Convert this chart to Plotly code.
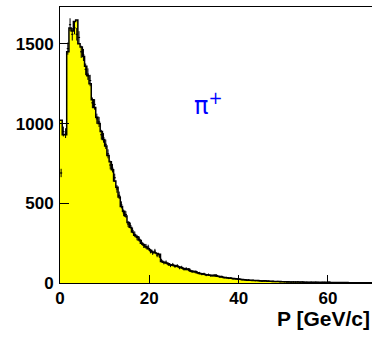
import plotly.graph_objects as go
import numpy as np

# bin lower edges (GeV/c), 0.5 GeV/c bins from 0 to 70
bin_width = 0.5
bin_lo = [i * 0.5 for i in range(140)]

# Monte-Carlo histogram counts (yellow)
mc_counts = [
    1020, 930, 930, 1450, 1600, 1580, 1640, 1650, 1500, 1480,   # 0 - 5
    1420, 1360, 1300, 1250, 1150, 1100, 1040, 1000, 950, 900,   # 5 - 10
    860, 800, 760, 710, 640, 600, 540, 480, 450, 420,           # 10 - 15
    380, 350, 320, 300, 290, 270, 250, 240, 225, 215,           # 15 - 20
    205, 195, 190, 185, 180, 135, 130, 125, 120, 115,           # 20 - 25
    112, 108, 105, 100, 95, 90, 85, 88, 75, 70,                 # 25 - 30
    72, 65, 60, 58, 55, 52, 50, 48, 45, 50,                     # 30 - 35
    42, 40, 38, 35, 33, 31, 30, 28, 26, 25,                     # 35 - 40
    23, 22, 20, 19, 18, 17, 16, 16, 15, 14,                     # 40 - 45
    13, 14, 12, 11, 11, 10, 10, 9, 9, 8,                        # 45 - 50
    8, 8, 7, 7, 7, 6, 6, 6, 6, 5,                               # 50 - 55
    5, 5, 5, 5, 4, 4, 4, 4, 4, 4,                               # 55 - 60
    4, 3, 3, 3, 3, 3, 3, 3, 3, 2,                               # 60 - 65
    2, 2, 2, 2, 2, 2, 2, 2, 2, 2,                               # 65 - 70
]

# data points (crosses with error bars)
data_counts = [
    690, 950, 940, 1470, 1620, 1560, 1600, 1560, 1540, 1450,
    1430, 1340, 1310, 1270, 1130, 1120, 1030, 1010, 930, 910,
    870, 810, 740, 720, 660, 590, 550, 490, 440, 430,
    370, 360, 330, 305, 285, 275, 255, 235, 230, 225,
    200, 190, 200, 175, 170, 140, 128, 130, 118, 110,
    115, 105, 108, 96, 98, 88, 90, 84, 77, 73,
    70, 66, 62, 56, 57, 50, 52, 46, 47, 45,
    44, 39, 40, 34, 34, 30, 31, 27, 27, 24,
    24, 21, 21, 18, 19, 16, 17, 15, 15, 14,
    12, 13, 12, 12, 10, 11, 9, 10, 8, 9,
    8, 7, 8, 6, 7, 6, 7, 5, 6, 5,
    5, 4, 5, 4, 5, 4, 3, 4, 4, 3,
    5, 3, 3, 2, 3, 3, 2, 3, 2, 2,
    2, 2, 1, 2, 2, 1, 2, 2, 1, 2,
]

x_ticks = [0, 20, 40, 60]
y_ticks = [0, 500, 1000, 1500]

edges = bin_lo + [bin_lo[-1] + bin_width]
step_y = mc_counts + [mc_counts[-1]]
centers = [b + bin_width / 2 for b in bin_lo]
errs = [float(np.sqrt(v)) for v in data_counts]

fig = go.Figure()
fig.add_trace(go.Scatter(
    x=edges, y=step_y, mode="lines", line=dict(shape="hv", color="black", width=1.5),
    fill="tozeroy", fillcolor="#ffff00", hoverinfo="skip", showlegend=False))
fig.add_trace(go.Scatter(
    x=centers, y=data_counts, mode="markers",
    marker=dict(size=1, color="black"),
    error_y=dict(type="data", array=errs, color="black", thickness=1, width=0),
    error_x=dict(type="constant", value=bin_width / 2, color="black", thickness=1, width=0),
    showlegend=False))

fig.add_annotation(x=33.3, y=1120, xref="x", yref="y", text="π<sup>+</sup>",
                   showarrow=False, font=dict(family="DejaVu Sans", size=24, color="#0000ff"))

axis_font = dict(family="Liberation Sans", size=17, color="black")
fig.update_layout(
    width=372, height=338, margin=dict(l=60, r=0, t=7, b=55),
    plot_bgcolor="white", paper_bgcolor="white",
    xaxis=dict(range=[0, 69.86], tickvals=x_ticks, ticktext=[f"<b>{v}</b>" for v in x_ticks],
               ticks="inside", ticklen=8, tickcolor="black", showgrid=False, zeroline=False,
               showline=True, linecolor="black", linewidth=1, mirror=True,
               tickfont=axis_font),
    yaxis=dict(range=[0, 1731], tickvals=y_ticks, ticktext=[f"<b>{v}</b>" for v in y_ticks],
               ticks="inside", ticklen=9, tickcolor="black", showgrid=False, zeroline=False,
               showline=True, linecolor="black", linewidth=1, mirror=True,
               tickfont=axis_font, ticklabelstandoff=2),
)
fig.add_annotation(x=1, y=0, xref="paper", yref="paper", xanchor="right", yanchor="top",
                   yshift=-22, text="<b>P [GeV/c]</b>", showarrow=False,
                   font=dict(family="Liberation Sans", size=21, color="black"))

fig.write_html("out.html")
